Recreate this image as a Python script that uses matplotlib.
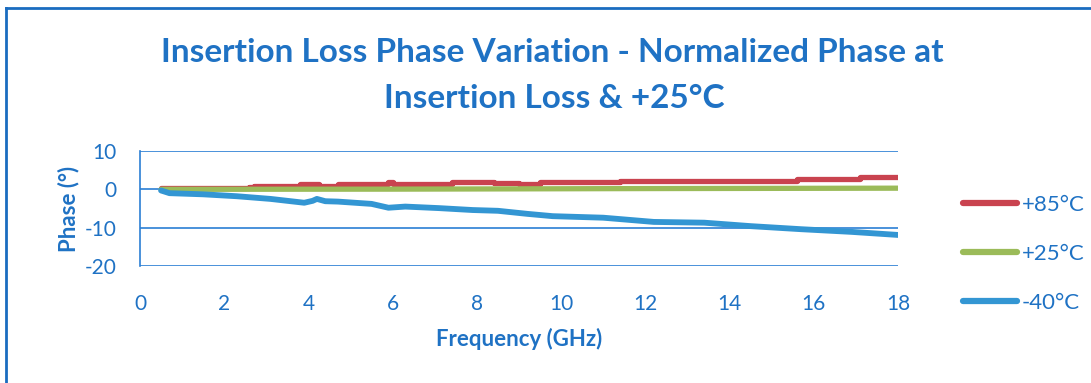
import matplotlib
matplotlib.use("Agg")
import matplotlib.pyplot as plt
from matplotlib.lines import Line2D

plt.rcParams['font.family'] = ['Lato', 'DejaVu Sans']
plt.rcParams['axes.unicode_minus'] = False

# ---- data ----
freq_85 = [0.5, 2.6, 2.7, 3.8, 4.25, 4.7, 5.8, 5.9, 6.0, 7.4, 8.4, 9.0, 9.5, 11.4, 15.6, 17.1, 18.0]
phase_85 = [0.3, 0.5, 0.9, 1.35, 0.9, 1.35, 1.35, 2.0, 1.35, 1.9, 1.6, 1.4, 2.0, 2.3, 2.65, 3.1, 3.1]

freq_25 = [0.5, 6.0, 12.0, 18.0]
phase_25 = [0.0, 0.05, 0.2, 0.3]

freq_m40 = [0.5, 0.7, 1.5, 2.3, 3.1, 3.9, 4.1, 4.2, 4.4, 4.7, 5.5, 5.9, 6.3, 7.1, 7.9, 8.5,
            9.2, 9.8, 11.0, 12.2, 13.4, 14.5, 15.7, 16.9, 18.0]
phase_m40 = [-0.3, -1.0, -1.3, -1.8, -2.5, -3.5, -3.0, -2.5, -3.1, -3.2, -3.8, -4.8, -4.5, -4.9,
             -5.4, -5.6, -6.4, -7.0, -7.4, -8.5, -8.7, -9.6, -10.4, -11.1, -11.9]

x_ticks = [0, 2, 4, 6, 8, 10, 12, 14, 16, 18]
y_ticks = [-20, -10, 0, 10]
labels = ['+85°C', '+25°C', '-40°C']

# ---- style ----
TXT = '#1f72c4'
GRID = '#2b7fd4'
C85 = '#c9434f'
C25 = '#9bbb59'
CM40 = '#3396d3'

fig = plt.figure(figsize=(10.91, 3.83), dpi=100)
ax = fig.add_axes([140/1091, 1 - 266/383, (898-140)/1091, (266-151)/383])

ax.plot(freq_85, phase_85, color=C85, lw=3.8, drawstyle='steps-post', label=labels[0], solid_capstyle='round')
ax.plot(freq_25, phase_25, color=C25, lw=3.8, label=labels[1], solid_capstyle='round')
ax.plot(freq_m40, phase_m40, color=CM40, lw=4.2, label=labels[2], solid_capstyle='round')

ax.set_xlim(0, 18)
ax.set_ylim(-20, 10)
ax.set_xticks(x_ticks)
ax.set_yticks(y_ticks)
ax.grid(axis='y', color=GRID, lw=1.2)
ax.set_axisbelow(True)
for s in ['top', 'right', 'bottom']:
    ax.spines[s].set_visible(False)
ax.spines['left'].set_color(GRID)
ax.spines['left'].set_linewidth(1.2)
ax.tick_params(length=0, labelsize=15, labelcolor=TXT)
ax.tick_params(axis='x', pad=20)
ax.tick_params(axis='y', pad=17)

ax.set_xlabel('Frequency (GHz)', fontsize=16, fontweight='bold', color=TXT, labelpad=10)
ax.set_ylabel('Phase (°)', fontsize=16, fontweight='bold', color=TXT, labelpad=4)

fig.text(0.506, 1 - 53/383, 'Insertion Loss Phase Variation - Normalized Phase at',
         ha='center', va='center', fontsize=24, fontweight='bold', color=TXT)
fig.text(0.508, 1 - 98/383, 'Insertion Loss & +25°C',
         ha='center', va='center', fontsize=24, fontweight='bold', color=TXT)

leg = ax.legend(loc='center left', bbox_to_anchor=(1.059, 0.104), frameon=False,
                fontsize=16, labelspacing=1.3, handlelength=2.45, handletextpad=0.2)
for t in leg.get_texts():
    t.set_color(TXT)
for h in leg.legend_handles:
    h.set_linewidth(4.5)

# outer frame (top and left)
fig.add_artist(Line2D([6/1091, 6/1091], [0, 1 - 8/383], color='#1a6cc0', lw=2, transform=fig.transFigure))
fig.add_artist(Line2D([6/1091, 1], [1 - 8/383, 1 - 8/383], color='#1a6cc0', lw=2, transform=fig.transFigure))

fig.savefig('out.png', dpi=100)
